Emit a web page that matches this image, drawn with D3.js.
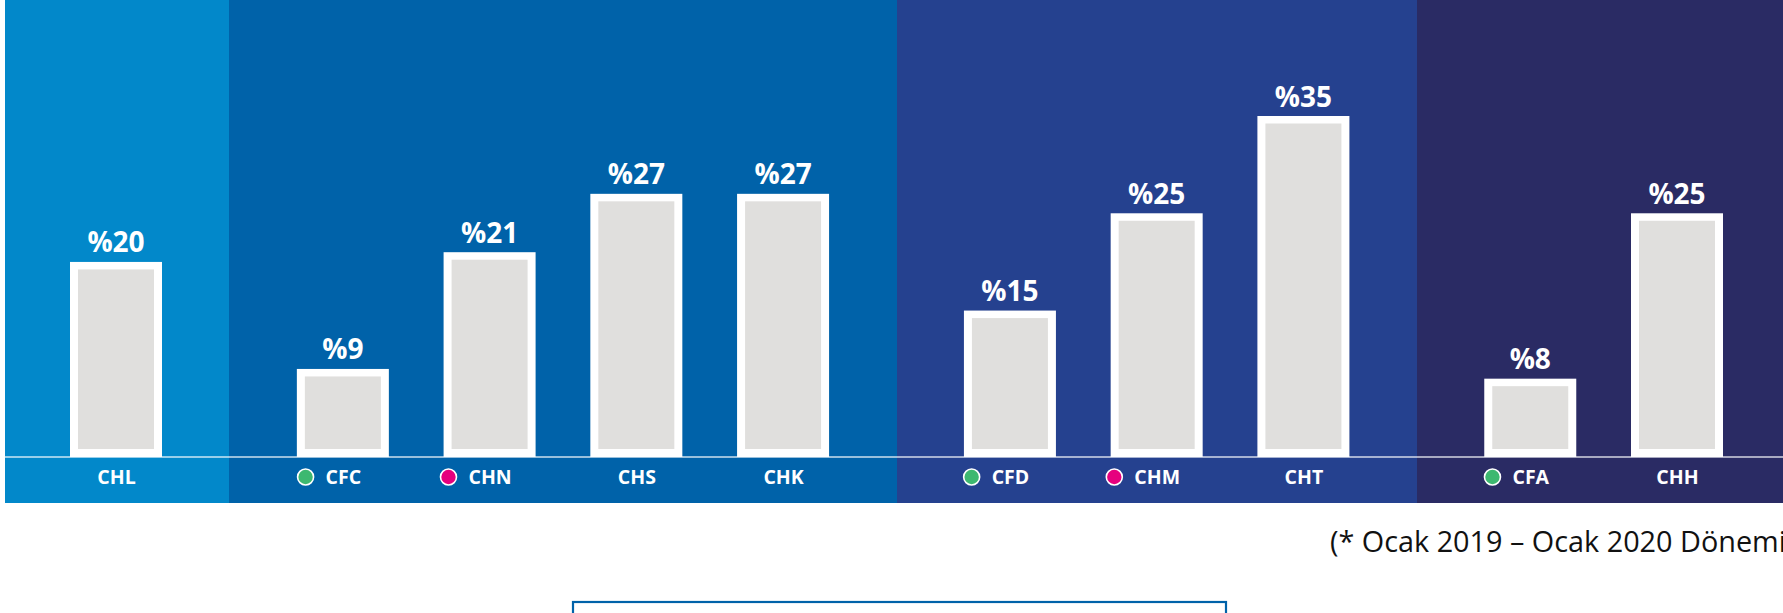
<!DOCTYPE html>
<html>
<head>
<meta charset="utf-8">
<script src="https://cdn.jsdelivr.net/npm/d3@7"></script>
<style>
  html, body { margin: 0; padding: 0; background: #ffffff; }
  svg { display: block; }
</style>
</head>
<body>
<div id="chart"></div>
<script>
// ---- data ----
const categories = ["CHL", "CFC", "CHN", "CHS", "CHK", "CFD", "CHM", "CHT", "CFA", "CHH"];
const values     = [20, 9, 21, 27, 27, 15, 25, 35, 8, 25];
const groups     = [0, 1, 1, 1, 1, 2, 2, 2, 3, 3];
const markers    = [null, "green", "pink", null, null, "green", "pink", null, "green", null];
const groupColors = ["#0288CA", "#0062A9", "#25418F", "#2A2B64"];
const markerColors = { green: "#3DB870", pink: "#E6007E" };
const footnote = "(* Ocak 2019 \u2013 Ocak 2020 D\u00f6nemi)";

// ---- layout ----
const W = 1783, H = 613;
const groupGap = 0.546;
const slots = categories.map((c, i) => i + groups[i] * groupGap);

const svg = d3.select("#chart").append("svg")
  .attr("width", W).attr("height", H)
  .style("font-family", "'Open Sans', 'Noto Sans', sans-serif");

const x = d3.scaleLinear()
  .domain([slots[0], slots[slots.length - 1]])
  .range([116, 1677]);

const y = d3.scaleLinear().domain([0, 35]).range([456.5, 116]);

const baseY = 457, stripBottom = 502.5;

// group panels
const nGroups = groupColors.length;
const panels = d3.range(nGroups).map(g => {
  const idx = categories.map((c, i) => i).filter(i => groups[i] === g);
  const first = idx[0], last = idx[idx.length - 1];
  const left = first === 0 ? 5 : Math.round((x(slots[first - 1]) + x(slots[first])) / 2);
  const right = last === categories.length - 1 ? W : Math.round((x(slots[last]) + x(slots[last + 1])) / 2);
  return { g, left, right };
});

svg.append("g").selectAll("rect").data(panels).join("rect")
  .attr("x", d => d.left)
  .attr("y", 0)
  .attr("width", d => d.right - d.left)
  .attr("height", stripBottom)
  .attr("shape-rendering", "crispEdges")
  .attr("fill", d => groupColors[d.g]);

// baseline
svg.append("line")
  .attr("x1", 5).attr("x2", W)
  .attr("y1", baseY).attr("y2", baseY)
  .attr("stroke", "rgba(255,255,255,0.8)")
  .attr("stroke-width", 1.5);

// bars
const barW = 92, border = 8;
const bars = svg.append("g").selectAll("g").data(values).join("g");

bars.append("rect")
  .attr("x", (d, i) => x(slots[i]) - barW / 2)
  .attr("y", d => y(d))
  .attr("width", barW)
  .attr("height", d => baseY - y(d))
  .attr("fill", "#ffffff");

bars.append("rect")
  .attr("x", (d, i) => x(slots[i]) - barW / 2 + border)
  .attr("y", d => y(d) + border - 0.5)
  .attr("width", barW - 2 * border)
  .attr("height", d => Math.max(0, (baseY - border) - (y(d) + border - 0.5)))
  .attr("fill", "#E0DFDD");

// value labels
bars.append("text")
  .attr("x", (d, i) => x(slots[i]))
  .attr("y", d => y(d) - 9.5)
  .attr("text-anchor", "middle")
  .attr("fill", "#ffffff")
  .style("font-size", "28px")
  .style("font-weight", 700)
  .text(d => "%" + d);

// category axis
const axis = d3.axisBottom(x)
  .tickValues(slots)
  .tickFormat((d, i) => categories[i])
  .tickSize(0)
  .tickPadding(0);

const axisG = svg.append("g")
  .attr("transform", `translate(0,${baseY})`)
  .call(axis);
axisG.select(".domain").remove();
axisG.selectAll(".tick text")
  .attr("y", 26.5)
  .attr("dy", 0)
  .attr("fill", "#ffffff")
  .style("font-family", "'Open Sans', 'Noto Sans', sans-serif")
  .style("font-size", "19.5px")
  .style("font-weight", 700);

// markers next to labels
axisG.selectAll(".tick").each(function (d, i) {
  if (!markers[i]) return;
  const t = d3.select(this).select("text").node();
  const len = t.getComputedTextLength();
  d3.select(this).append("circle")
    .attr("cx", -len / 2 - 20)
    .attr("cy", 20)
    .attr("r", 8)
    .attr("fill", markerColors[markers[i]])
    .attr("stroke", "#ffffff")
    .attr("stroke-width", 1.6);
});

// footnote
svg.append("text")
  .attr("x", 1330)
  .attr("y", 551.5)
  .attr("fill", "#111111")
  .style("font-size", "28.8px")
  .style("font-weight", 400)
  .text(footnote);

// bottom box outline
svg.append("rect")
  .attr("x", 573)
  .attr("y", 602)
  .attr("width", 1226 - 573)
  .attr("height", 40)
  .attr("fill", "#ffffff")
  .attr("stroke", "#0062A9")
  .attr("stroke-width", 2.2);
</script>
</body>
</html>
